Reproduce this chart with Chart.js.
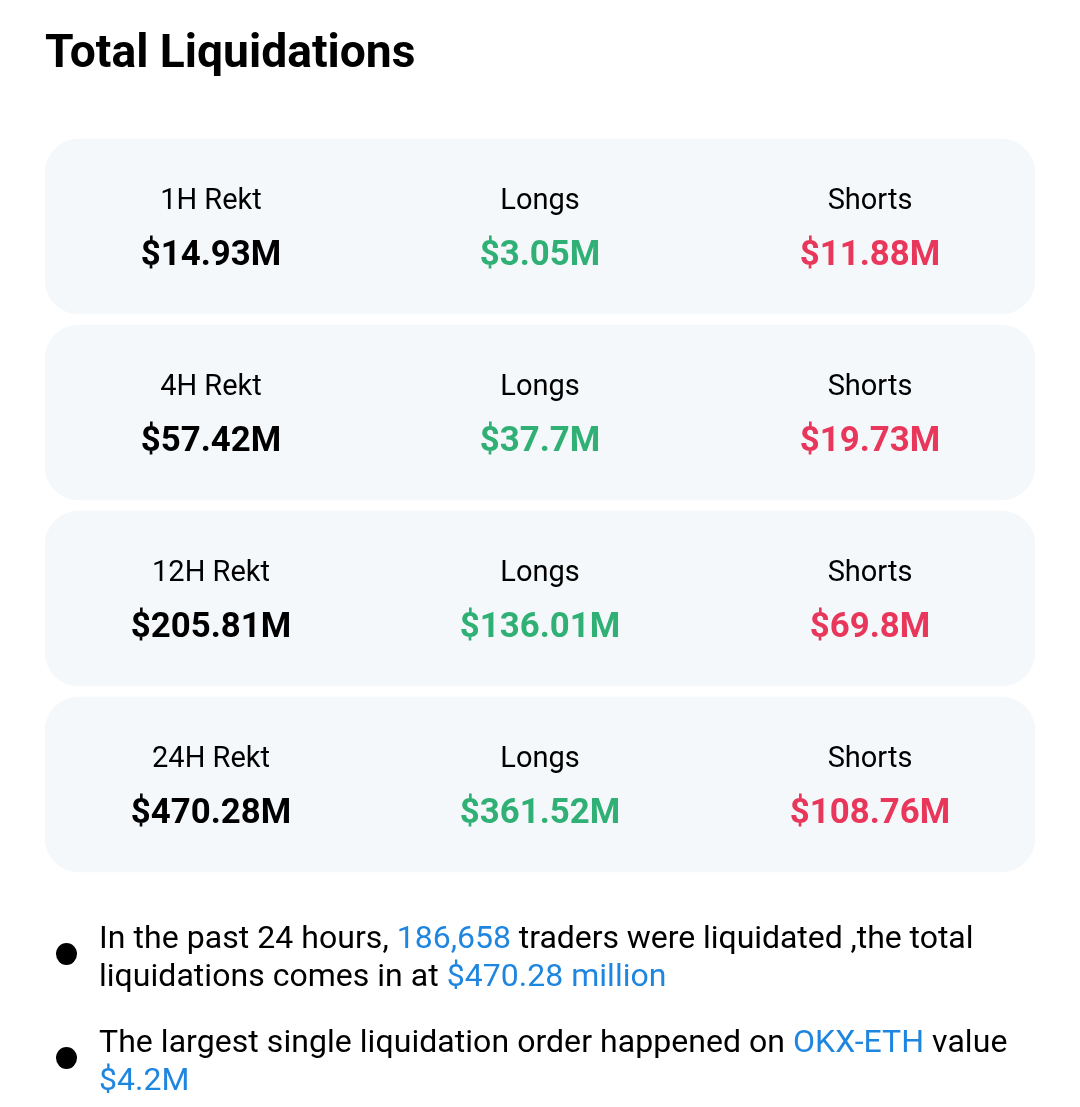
<!DOCTYPE html>
<html><head><meta charset="utf-8">
<script src="https://cdn.jsdelivr.net/npm/chart.js@4"></script>
<style>
html,body{margin:0;padding:0;background:#fff;width:1080px;height:1107px;overflow:hidden}
#wrap{position:absolute;left:0;top:0;width:1080px;height:1107px}
canvas{position:absolute;left:0;top:0}
.t{position:absolute;font-family:Roboto,sans-serif;color:#000;white-space:nowrap}
#title{left:45px;top:24px;font-size:46.2px;font-weight:700;line-height:54px}
.line{left:99px;font-size:32px;line-height:38px;}
.b{color:#1f86e0}
.dot{position:absolute;left:56px;width:21px;height:22px;border-radius:50%;background:#000}
</style></head><body>
<div id="wrap">
<canvas id="c" width="1080" height="1107"></canvas>
<div class="t" id="title">Total Liquidations</div>
<div class="dot" style="top:943px"></div>
<div class="t line" style="top:918px"><span style="letter-spacing:.05px">In the past 24 hours, </span><span class="b">186,658</span><span style="letter-spacing:-.05px"> traders were liquidated ,the total</span></div>
<div class="t line" style="top:956px;letter-spacing:.03px">liquidations comes in at <span class="b">$470.28 million</span></div>
<div class="dot" style="top:1047px"></div>
<div class="t line" style="top:1022px;letter-spacing:.05px">The largest single liquidation order happened on <span class="b">OKX-ETH</span> value</div>
<div class="t line" style="top:1060px"><span class="b">$4.2M</span></div>
</div>
<script>
const rows = ["1H Rekt","4H Rekt","12H Rekt","24H Rekt"];
const longsLabel = "Longs";
const shortsLabel = "Shorts";
const totals = ["$14.93M","$57.42M","$205.81M","$470.28M"];
const longs = ["$3.05M","$37.7M","$136.01M","$361.52M"];
const shorts = ["$11.88M","$19.73M","$69.8M","$108.76M"];
const cardSpan = [1,1,1,1];
const columnCentres = [211,540,870];

const cardText = {
  id:'cardText',
  afterDatasetsDraw(chart){
    const {ctx,scales:{y}} = chart;
    ctx.save();
    ctx.textAlign='center';
    ctx.textBaseline='alphabetic';
    rows.forEach((r,i)=>{
      const cy = y.getPixelForValue(i);
      const heads=[r,longsLabel,shortsLabel];
      const vals=[totals[i],longs[i],shorts[i]];
      const cols=['#000000','#30b075','#e8375a'];
      columnCentres.forEach((x,j)=>{
        ctx.font='400 29px Roboto, sans-serif';
        ctx.fillStyle='#000';
        ctx.fillText(heads[j],x,cy-18);
        ctx.font='700 34.8px Roboto, sans-serif';
        ctx.fillStyle=cols[j];
        ctx.fillText(vals[j],x,cy+38);
      });
    });
    ctx.restore();
  }
};

new Chart(document.getElementById('c'),{
  type:'bar',
  data:{labels:rows,datasets:[{data:cardSpan,backgroundColor:'#f4f8fb',borderWidth:0,barThickness:175,borderRadius:34,borderSkipped:false}]},
  options:{
    indexAxis:'y',responsive:false,animation:false,devicePixelRatio:1,
    layout:{padding:{left:45,right:45,top:133.5,bottom:229.5}},
    plugins:{legend:{display:false},tooltip:{enabled:false},title:{display:false}},
    scales:{
      x:{display:false,min:0,max:1,grid:{display:false}},
      y:{display:false,grid:{display:false}}
    }
  },
  plugins:[cardText]
});
</script>
</body></html>
